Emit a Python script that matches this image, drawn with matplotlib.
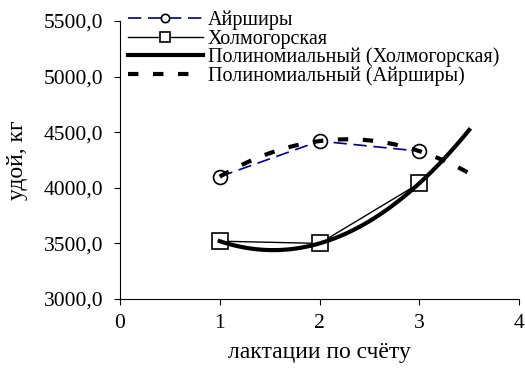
import numpy as np
import matplotlib
matplotlib.use('Agg')
import matplotlib.pyplot as plt
from matplotlib.ticker import FuncFormatter

lactation = [1, 2, 3]
ayrshire = [4100, 4420, 4330]
kholmogory = [3520, 3500, 4040]

y_ticks = [3000, 3500, 4000, 4500, 5000, 5500]
x_ticks = [0, 1, 2, 3, 4]

plt.rcParams['font.family'] = ['Liberation Serif', 'DejaVu Serif']

fig = plt.figure(figsize=(5.25, 3.71), dpi=100)
ax = fig.add_axes([120 / 525, 1 - 299 / 371, 399 / 525, 278 / 371])

# polynomial trendlines (order 2), forecast forward 0.5
x_tr = np.linspace(1, 3.5, 100)
p_ayr = np.polyfit(lactation, ayrshire, 2)
p_kh = np.polyfit(lactation, kholmogory, 2)

ax.plot(lactation, ayrshire, color='#000080', lw=1.2, dashes=(8, 4),
        marker='o', ms=10, mfc='white', mec='black', mew=1.2,
        label='Айрширы', zorder=3)
ax.plot(lactation, kholmogory, color='black', lw=1.0,
        marker='s', ms=11, mfc='white', mec='black', mew=1.2,
        label='Холмогорская', zorder=3)
ax.plot(x_tr, np.polyval(p_kh, x_tr), color='black', lw=3,
        label='Полиномиальный (Холмогорская)', zorder=4)
ax.plot(x_tr, np.polyval(p_ayr, x_tr), color='black', lw=3, dashes=(2.5, 3.5),
        label='Полиномиальный (Айрширы)', zorder=4)

ax.set_xlim(0, 4)
ax.set_ylim(3000, 5500)
ax.set_xticks(x_ticks)
ax.set_yticks(y_ticks)
ax.yaxis.set_major_formatter(FuncFormatter(lambda v, p: f'{v:.1f}'.replace('.', ',')))
ax.tick_params(direction='out', length=4, labelsize=15.5, colors='black')
ax.tick_params(axis='y', pad=8)
ax.tick_params(axis='x', pad=7)
ax.spines['top'].set_visible(False)
ax.spines['right'].set_visible(False)

ax.set_xlabel('лактации по счёту', fontsize=17, labelpad=6)
ax.set_ylabel('удой, кг', fontsize=17, labelpad=11)

leg = fig.legend(loc='upper left', bbox_to_anchor=(128 / 525, 1 - 11 / 371),
                 frameon=False, fontsize=14.5, handlelength=3.7, handletextpad=0.25,
                 borderpad=0, borderaxespad=0, labelspacing=-0.05, markerscale=0.6)

fig.savefig('out.png', dpi=100)
